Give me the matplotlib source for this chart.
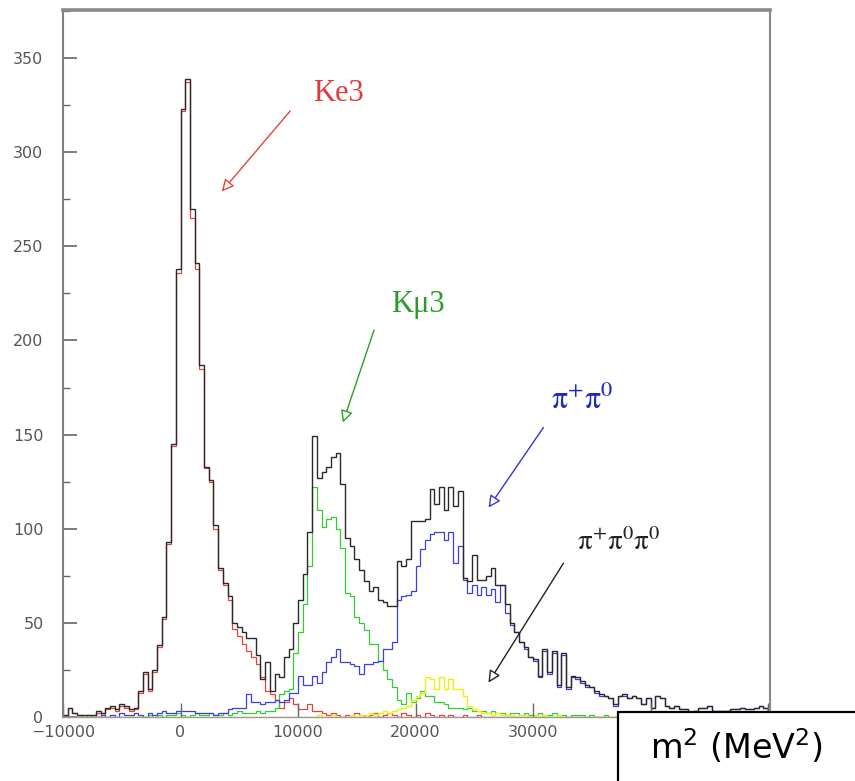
import numpy as np
import matplotlib
matplotlib.use('Agg')
import matplotlib.pyplot as plt
from matplotlib.patches import Rectangle

plt.rcParams['mathtext.fontset'] = 'stix'

# 150 bins of 400 MeV^2 from -10000 to 50000, one row = 10 bins (4000 MeV^2)
bin_lo = -10000
bin_hi = 50000
n_bins = 150

total = [
    1, 5, 2, 1, 1, 1, 1, 3, 2, 5,
    6, 4, 7, 6, 4, 5, 14, 24, 15, 25,
    38, 53, 93, 145, 238, 323, 339, 270, 241, 187,
    133, 126, 102, 79, 71, 64, 50, 48, 45, 42,
    42, 33, 20, 29, 14, 23, 21, 32, 36, 50,
    62, 76, 98, 149, 127, 130, 133, 138, 140, 124,
    95, 91, 84, 78, 72, 67, 69, 62, 61, 59,
    59, 83, 80, 84, 104, 104, 104, 105, 121, 113,
    122, 110, 122, 112, 120, 74, 72, 86, 73, 73,
    75, 79, 70, 70, 60, 50, 45, 40, 37, 32,
    31, 22, 36, 24, 35, 17, 34, 16, 22, 21,
    19, 17, 16, 14, 12, 11, 10, 7, 11, 12,
    10, 11, 10, 7, 10, 5, 11, 10, 6, 5,
    6, 4, 4, 2, 3, 5, 5, 6, 3, 3,
    3, 3, 4, 4, 5, 4, 4, 5, 6, 5,
]

ke3 = [
    0, 5, 2, 1, 0, 1, 0, 2, 1, 4,
    5, 3, 6, 5, 3, 4, 13, 23, 14, 24,
    37, 52, 92, 144, 236, 322, 337, 265, 238, 185,
    132, 125, 100, 78, 70, 62, 47, 43, 39, 35,
    32, 28, 21, 14, 12, 9, 5, 8, 10, 7,
    4, 4, 7, 3, 3, 2, 1, 2, 1, 0,
    1, 0, 2, 1, 0, 1, 2, 0, 1, 2,
    1, 0, 2, 1, 0, 1, 0, 2, 1, 0,
    1, 0, 1, 0, 0, 1, 0, 0, 1, 0,
    0, 0, 0, 0, 0, 0, 0, 0, 0, 0,
    0, 0, 0, 0, 0, 0, 0, 0, 0, 0,
    0, 0, 0, 0, 0, 0, 0, 0, 0, 0,
    0, 0, 0, 0, 0, 0, 0, 0, 0, 0,
    0, 0, 0, 0, 0, 0, 0, 0, 0, 0,
    0, 0, 0, 0, 0, 0, 0, 0, 0, 0,
]

kmu3 = [
    0, 0, 0, 0, 0, 0, 0, 0, 0, 0,
    0, 0, 0, 0, 0, 0, 0, 0, 1, 0,
    1, 0, 1, 1, 2, 1, 0, 1, 2, 1,
    1, 2, 1, 1, 2, 1, 2, 3, 2, 2,
    2, 3, 2, 3, 3, 5, 12, 14, 15, 34,
    45, 60, 80, 122, 110, 101, 105, 106, 100, 90,
    66, 64, 53, 50, 46, 39, 39, 30, 25, 20,
    16, 9, 7, 13, 8, 10, 14, 11, 11, 8,
    8, 7, 5, 5, 5, 4, 5, 3, 3, 3,
    2, 3, 2, 2, 1, 2, 2, 1, 2, 1,
    1, 2, 1, 1, 2, 1, 1, 0, 1, 1,
    1, 0, 1, 0, 0, 1, 0, 0, 0, 1,
    0, 0, 0, 0, 0, 0, 0, 0, 0, 0,
    0, 0, 0, 0, 0, 0, 0, 0, 0, 0,
    0, 0, 0, 0, 0, 0, 0, 0, 0, 0,
]

pipi0 = [
    0, 0, 0, 0, 0, 0, 0, 0, 1, 0,
    1, 0, 2, 1, 1, 2, 1, 0, 2, 1,
    2, 3, 2, 2, 3, 3, 3, 3, 2, 2,
    2, 2, 1, 2, 2, 4, 5, 5, 5, 12,
    8, 8, 7, 8, 8, 9, 8, 9, 13, 13,
    22, 17, 17, 22, 18, 24, 29, 32, 36, 29,
    29, 28, 27, 23, 28, 28, 29, 30, 36, 36,
    40, 62, 64, 65, 67, 80, 89, 94, 97, 98,
    98, 94, 98, 82, 91, 73, 66, 70, 65, 69,
    65, 68, 61, 70, 55, 49, 45, 40, 36, 32,
    30, 21, 35, 23, 34, 16, 33, 15, 21, 20,
    18, 16, 16, 13, 11, 11, 10, 6, 11, 11,
    10, 11, 10, 7, 10, 5, 11, 10, 6, 5,
    6, 4, 4, 2, 3, 5, 5, 6, 3, 3,
    3, 3, 4, 4, 5, 4, 4, 5, 6, 5,
]

pipi0pi0 = [
    0, 0, 0, 0, 0, 0, 0, 0, 0, 0,
    0, 0, 0, 0, 0, 0, 0, 0, 0, 0,
    0, 0, 0, 0, 0, 0, 0, 0, 0, 0,
    0, 0, 0, 0, 0, 0, 0, 0, 0, 0,
    0, 0, 0, 0, 0, 0, 0, 0, 0, 0,
    0, 0, 0, 0, 1, 0, 0, 1, 0, 0,
    0, 1, 0, 1, 1, 2, 1, 2, 3, 2,
    3, 4, 5, 6, 9, 11, 13, 21, 20, 15,
    21, 15, 20, 15, 15, 11, 6, 4, 3, 2,
    2, 1, 2, 1, 1, 1, 0, 1, 1, 0,
    1, 0, 1, 0, 0, 1, 0, 0, 0, 0,
    0, 0, 0, 0, 0, 0, 0, 0, 0, 0,
    0, 0, 0, 0, 0, 0, 0, 0, 0, 0,
    0, 0, 0, 0, 0, 0, 0, 0, 0, 0,
    0, 0, 0, 0, 0, 0, 0, 0, 0, 0,
]

x_ticks = [-10000, 0, 10000, 20000, 30000, 40000, 50000]
# the last two labels sit under the axis-title box in the original
x_tick_labels = ['\u221210000', '0', '10000', '20000', '30000', '', '']
y_ticks = [0, 50, 100, 150, 200, 250, 300, 350]
x_label = r'm$^2$ (MeV$^2$)'

edges = np.linspace(bin_lo, bin_hi, n_bins + 1)

fig = plt.figure(figsize=(8.55, 7.81), dpi=100)
ax = fig.add_axes([63 / 855, 1 - 717 / 781, (770 - 63) / 855, (717 - 10) / 781])

ax.stairs(ke3, edges, color='#e4433d', lw=0.9)
ax.stairs(kmu3, edges, color='#33cc33', lw=0.9)
ax.stairs(pipi0, edges, color='#3d3de0', lw=0.9)
ax.stairs(pipi0pi0, edges, color='#eeee10', lw=1.0)
ax.stairs(total, edges, color='#2a2a2a', lw=1.0)

ax.set_xlim(-10000, 50170)
ax.set_ylim(0, 375.5)
ax.set_xticks(x_ticks)
ax.set_xticklabels(x_tick_labels)
ax.set_yticks(y_ticks)
ax.set_yticks(np.arange(25, 376, 50), minor=True)
ax.tick_params(axis='both', which='both', direction='in', colors='#666',
               labelcolor='#555', labelsize=11.5)
ax.tick_params(axis='y', which='major', length=10, width=1.2, pad=14)
ax.tick_params(axis='y', which='minor', length=5, width=1)
ax.tick_params(axis='x', which='major', length=10, width=1, pad=6)
ax.tick_params(top=False, right=False)

ax.spines['top'].set_linewidth(2.6)
ax.spines['top'].set_color('#8a8a8a')
ax.spines['left'].set_linewidth(1.5)
ax.spines['left'].set_color('#808080')
ax.spines['right'].set_linewidth(1.5)
ax.spines['right'].set_color('#8a8a8a')
ax.spines['bottom'].set_linewidth(1.0)
ax.spines['bottom'].set_color('#999999')

serif = ['Liberation Serif', 'DejaVu Serif']

# Ke3
ax.annotate('', xy=(3362, 278), xytext=(9489, 323),
            arrowprops=dict(arrowstyle='-|>', ec='#e4433d', fc='white',
                            lw=1.0, mutation_scale=18))
ax.text(13489, 331, 'Ke3', color='#e03a3a', fontsize=22, family=serif,
        ha='center', va='center')

# Kmu3
ax.annotate('', xy=(13745, 155), xytext=(16553, 207),
            arrowprops=dict(arrowstyle='-|>', ec='#2aa02a', fc='white',
                            lw=1.0, mutation_scale=18))
ax.text(20213, 219, 'Kμ3', color='#2a9a2a', fontsize=22, family=serif,
        ha='center', va='center')

# pi+ pi0
ax.annotate('', xy=(26085, 110), xytext=(31021, 155),
            arrowprops=dict(arrowstyle='-|>', ec='#3535d8', fc='white',
                            lw=1.0, mutation_scale=18))
ax.text(34170, 168, r'$\mathrm{\pi^{+}\pi^{0}}$', color='#2024c8', fontsize=23,
        ha='center', va='center')

# pi+ pi0 pi0
ax.annotate('', xy=(26085, 17), xytext=(32723, 83),
            arrowprops=dict(arrowstyle='-|>', ec='#222222', fc='white',
                            lw=1.0, mutation_scale=18))
ax.text(37319, 93, r'$\mathrm{\pi^{+}\pi^{0}\pi^{0}}$', color='#222222',
        fontsize=21, ha='center', va='center')

# axis title box in the lower right corner
fig.add_artist(Rectangle((618 / 855, -0.02), 0.5, (781 - 712) / 781 + 0.02,
                         transform=fig.transFigure, fc='white', ec='black',
                         lw=1.6, zorder=10))
fig.text(736 / 855, 1 - 747 / 781, x_label, fontsize=24, ha='center',
         va='center', family='DejaVu Sans', math_fontfamily='dejavusans',
         zorder=11)

fig.savefig('out.png', dpi=100)
